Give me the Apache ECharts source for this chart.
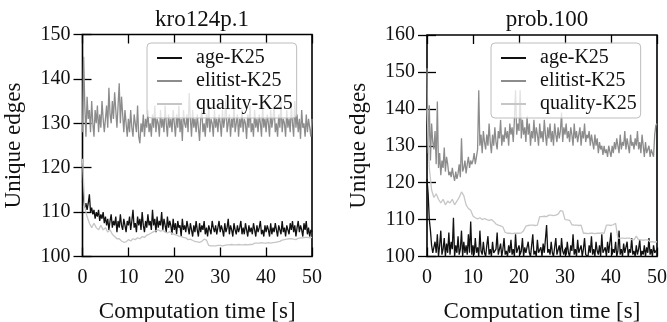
<!DOCTYPE html>
<html>
<head>
<meta charset="utf-8">
<script src="https://cdn.jsdelivr.net/npm/echarts@6/dist/echarts.min.js"></script>
<style>
  html, body { margin: 0; padding: 0; background: #fff; }
  #chart { width: 667px; height: 322px; }
</style>
</head>
<body>
<div id="chart"></div>
<script>
// sampling steps of the traces (seconds)
const fineStep = 0.25;
const coarseStep = 0.5;

const seriesNames = ['age-K25', 'elitist-K25', 'quality-K25'];
const xTicks = [0, 10, 20, 30, 40, 50];
const leftYTicks = [100, 110, 120, 130, 140, 150];
const rightYTicks = [100, 110, 120, 130, 140, 150, 160];

// kro124p.1
const leftAge = [
  117, 113, 111, 112, 110.5, 112, 114, 110, 111, 109.5, 110.5, 108.5, 110, 109, 110.5, 108, 109.5, 108.5, 110, 107.5,
  109, 107, 108.5, 106, 108, 109.5, 106.5, 108, 107, 109, 105.5, 108, 106.5, 109.5, 107, 106, 108.5, 107, 105.5, 108,
  107, 109, 106, 108, 110.5, 106.5, 107.5, 105.5, 109, 107, 108.5, 106, 110, 107, 105.5, 108, 106.5, 109.5, 107, 108,
  106, 110.5, 107, 108.5, 105.5, 109, 106.5, 108, 107, 110, 106, 108.5, 107, 105.5, 109, 106.5, 108, 107, 105, 108.5,
  106, 107.5, 105, 108, 106.5, 107, 104.5, 108.5, 106, 107, 105.5, 108, 106.5, 105, 107.5, 106, 104.5, 107, 105.5, 108,
  106, 104.5, 107.5, 105.5, 107, 106, 108, 105, 106.5, 104.5, 107, 106, 105, 108, 106.5, 105.5, 107, 105, 106.5, 108,
  105.5, 107, 106, 104.5, 107.5, 105.5, 106.5, 108.5, 105, 107, 106, 104.5, 107.5, 106, 105, 107, 105.5, 106.5, 108, 105,
  106.5, 105, 107.5, 106, 104.5, 107, 105.5, 106.5, 105, 107.5, 106, 104.5, 107, 105.5, 106.5, 108, 105, 106, 104.5, 107,
  105.5, 107, 106, 104.5, 107.5, 105, 106.5, 105.5, 107.5, 106, 104.5, 107, 106, 105, 108, 105.5, 106.5, 104.5, 107, 106,
  105, 107.5, 106, 108, 105.5, 107, 104.5, 106.5, 108, 105.5, 107, 106, 104.5, 107.5, 106, 108, 105, 106.5, 104.5, 106,
  105.5
];
const leftElitist = [
  128, 145, 134, 127, 136, 131, 133, 128, 135, 130, 127, 133, 130, 134, 128, 132, 129, 135, 131, 128,
  131, 134, 129, 138, 132, 130, 135, 131, 137, 133, 129, 134, 139, 130, 136, 132, 128, 133, 130, 127,
  131, 128, 133, 129, 127, 132, 130, 128, 134, 127, 125.5, 130, 128, 132, 127, 131, 129, 133, 128, 130,
  127, 132, 129, 134, 128, 131, 130, 127, 133, 129, 131, 128, 134, 130, 127, 132, 129, 131, 128, 133,
  130, 127, 132, 129, 134, 128, 131, 126, 133, 130, 129, 132, 128, 136.8, 131, 127, 133, 129, 131, 128,
  132, 129, 126, 131, 133, 128, 130, 127, 132, 129, 134, 128, 131, 130, 127, 133, 129, 131, 128, 132,
  130, 127, 133, 129, 131, 135.5, 128, 130, 132, 127, 131, 129, 134, 128, 130, 132, 127, 131, 129, 133,
  128, 131, 130, 126.5, 132, 129, 134, 128, 130, 127, 133, 129, 131, 128, 132, 130, 127, 134, 129, 131,
  128, 132, 130, 127, 133, 129, 131, 134, 128, 130, 127, 132, 129, 135, 128, 131, 130, 127, 133, 129,
  131, 128, 134, 130, 127, 135, 129, 132, 128, 131, 126.5, 133, 129, 130, 127, 132, 128, 131, 129, 127,
  131
];
const leftQuality = [
  122, 111, 109, 107.5, 106.5, 107.5, 106.5, 106, 107, 106,
  106.5, 105.5, 106, 105, 104.5, 104, 104, 103.5, 103.2, 103.3,
  103.8, 103.5, 104, 103.8, 104.2, 104, 104.5, 104.3, 104.8, 105,
  105.3, 105.6, 105.8, 106, 105.7, 105.9, 105.5, 105.3, 105.6, 105.2,
  105, 104.8, 104.6, 104.5, 104.3, 104.2, 103.8, 103.9, 103.6, 103.4,
  103.3, 103.2, 103.4, 103.9, 103.7, 102.5, 102.4, 102.4, 102.4, 102.5,
  102.5, 102.4, 102.5, 102.6, 102.6, 102.7, 102.6, 102.6, 102.7, 102.6,
  102.6, 102.7, 102.6, 102.7, 102.7, 103, 103, 103, 103.1, 103,
  103, 103.1, 103, 103.1, 103.2, 103.3, 103.4, 103.7, 103.8, 103.9,
  104, 104, 103.9, 103.8, 104.1, 104.2, 104.2, 104.3, 104.3, 104.2,
  104.3
];

// prob.100
const rightAge = [
  121, 117, 110, 107, 103, 101, 100.5, 104, 101, 106, 100, 103, 107, 100.5, 102, 105, 100, 103.5, 101, 106.5,
  100.5, 104, 102, 110.5, 100, 103, 101, 105.5, 100.5, 102, 107, 100, 104, 101, 103, 100.5, 106, 101, 109.5, 100.5,
  103, 100.5, 105, 101, 102.5, 100, 107, 101.5, 100.5, 104, 101, 100, 103, 105.5, 100.5, 102, 100, 104, 101, 100.5,
  102, 106.5, 100.5, 101, 103.5, 100, 102, 105, 100.5, 101.5, 100, 103, 101, 104.5, 100.5, 102, 100, 106, 101, 100.5,
  103, 100.5, 101.5, 105, 100, 102.5, 101, 100.5, 104, 101, 100, 103, 106, 100.5, 101.5, 100, 104.5, 101, 100.5, 102.5,
  100, 103.5, 101, 100.5, 108.5, 101, 102, 100.5, 104, 101, 100, 102.5, 105, 100.5, 101, 103, 100, 105, 101.5, 100.5,
  102, 100.5, 104, 101, 100, 103, 101.5, 106, 100.5, 102, 100, 104.5, 101, 100.5, 103, 100, 102, 105, 100.5, 101,
  100, 103, 101, 105.5, 100.5, 102, 100, 104, 101.5, 100.5, 103, 100, 106, 101, 100.5, 102.5, 100, 104, 101, 100.5,
  106.5, 100.5, 102, 101, 104, 100, 101.5, 107, 100.5, 102, 100, 103.5, 101, 100.5, 104, 100, 102, 101, 105, 100.5,
  101.5, 100, 103, 100.5, 102, 104.5, 100, 101.5, 100.5, 103, 100, 102.5, 101, 105, 100.5, 102, 100, 103, 101, 100.5,
  102
];
const rightElitist = [
  151, 128, 141, 126, 136, 131, 129, 134, 125, 142, 124, 128, 122, 126, 124, 129.5, 123, 127, 125, 122,
  123, 121.5, 124, 122, 120.5, 123, 121, 122.5, 125, 121.5, 132, 123, 124, 126, 122.5, 125, 127, 124, 126, 125,
  126, 128, 125, 127, 129, 145, 130, 133, 128, 134, 131, 129, 133, 130, 136, 131, 128, 133, 130, 135,
  131, 129, 134, 132, 137, 130, 133, 131, 135, 132, 134, 130, 136, 133, 135, 131, 137, 145, 133, 136,
  134, 145, 132, 137, 133, 135, 131, 138, 133, 136, 130, 134, 132, 137, 131, 135, 133, 130, 136, 132,
  134, 131, 137, 133, 130, 135, 132, 136, 131, 134, 130, 136, 133, 131, 135, 132, 134, 139, 131, 135,
  133, 136, 132, 134, 131, 135, 133, 130, 136, 132, 134, 131, 133, 135, 130, 134, 132, 136, 131, 133,
  132, 134, 130, 133, 131, 129, 133, 130, 132, 128, 131, 129, 130, 127.5, 130, 128, 129, 127, 130, 128.5,
  127, 130, 128, 131, 129, 132, 130, 128, 133, 129, 131, 130, 134, 129, 132, 130, 128, 133, 130, 131,
  129, 132, 130, 134, 129, 131, 128, 133, 130, 127, 131, 128, 127.5, 130, 127, 129, 128, 127, 133, 135.5,
  136
];
const rightQuality = [
  140, 124, 118, 116, 117, 115.5, 114.5, 115.5, 114, 115,
  114.5, 115.5, 114, 115, 116, 117.5, 116.5, 114, 113, 112.5,
  111, 110.5, 110.2, 110.5, 110, 110.3, 110, 109.8, 110, 109.5,
  108.8, 108.5, 108.3, 108, 106.5, 106.3, 106.3, 106.2, 106.3, 106.3,
  106.3, 106.4, 107, 108.2, 108.4, 108.5, 108.5, 108.4, 108.5, 110.8,
  110.8, 110.9, 110.8, 111.2, 111.2, 111.1, 111.2, 111.5, 112.4, 112.3,
  110, 109.9, 109.8, 108.6, 108.5, 108.5, 108.4, 108.5, 106.3, 106.3,
  106.2, 106.3, 106.3, 106.2, 106.3, 106.3, 106.4, 106.3, 108.5, 108.5,
  108.4, 108.6, 109, 105, 105, 105, 104.9, 105, 105, 104.6,
  104.5, 105.5, 104.5, 104.5, 104.4, 104.5, 104.5, 104, 104, 103.9,
  104
];

const colors = ['#111111', '#8c8c8c', '#c6c6c6'];
const font = '"Liberation Serif", "DejaVu Serif", serif';

const toPairs = (arr, step) => arr.map((v, i) => [i * step, v]);

function frameAxes(gridIndex, min, max) {
  const tick = { show: true, inside: true, length: 9, lineStyle: { color: '#000', width: 1.3 } };
  return {
    x: [
      {
        gridIndex, type: 'value', position: 'bottom', min: xTicks[0], max: xTicks[xTicks.length - 1], interval: 10,
        axisLine: { show: false }, axisTick: tick, splitLine: { show: false },
        axisLabel: { fontSize: 20, fontFamily: font, color: '#111', margin: 11 },
        name: 'Computation time [s]', nameLocation: 'middle', nameGap: 44,
        nameTextStyle: { fontSize: 23, fontFamily: font, color: '#111' },
      },
      {
        gridIndex, type: 'value', position: 'top', min: xTicks[0], max: xTicks[xTicks.length - 1], interval: 10,
        axisLine: { show: false }, axisTick: tick, splitLine: { show: false },
        axisLabel: { show: false },
      },
    ],
    y: [
      {
        gridIndex, type: 'value', position: 'left', min, max, interval: 10,
        axisLine: { show: false }, axisTick: tick, splitLine: { show: false },
        axisLabel: { fontSize: 20, fontFamily: font, color: '#111', margin: 12 },
        name: 'Unique edges', nameLocation: 'middle', nameGap: 57,
        nameTextStyle: { fontSize: 23, fontFamily: font, color: '#111' },
      },
      {
        gridIndex, type: 'value', position: 'right', min, max, interval: 10,
        axisLine: { show: false }, axisTick: tick, splitLine: { show: false },
        axisLabel: { show: false },
      },
    ],
  };
}

const leftAxes = frameAxes(0, leftYTicks[0], leftYTicks[leftYTicks.length - 1]);
const rightAxes = frameAxes(1, rightYTicks[0], rightYTicks[rightYTicks.length - 1]);

function makeSeries(data, idx, axisIdx, step) {
  return {
    name: seriesNames[idx],
    type: 'line',
    xAxisIndex: axisIdx,
    yAxisIndex: axisIdx,
    data: toPairs(data, step),
    showSymbol: false,
    symbol: 'none',
    lineStyle: { color: colors[idx], width: 1.3 },
    itemStyle: { color: colors[idx] },
    animation: false,
  };
}

function makeLegend(left) {
  return {
    data: seriesNames,
    orient: 'vertical',
    left, top: 43,
    icon: 'rect',
    itemWidth: 25,
    itemHeight: 2,
    itemGap: 3,
    padding: [5, 4, 4, 10],
    backgroundColor: 'rgba(255,255,255,0.75)',
    borderColor: '#bdbdbd',
    borderWidth: 1,
    borderRadius: 4,
    selectedMode: false,
    textStyle: { fontSize: 20, fontFamily: font, color: '#111', padding: [0, 0, 0, 9], lineHeight: 19 },
  };
}

const titleStyle = { fontSize: 23, fontWeight: 'normal', fontFamily: font, color: '#111' };

const chart = echarts.init(document.getElementById('chart'));
chart.setOption({
  animation: false,
  backgroundColor: '#fff',
  title: [
    { text: 'kro124p.1', left: 197, top: 3, textAlign: 'center', textStyle: titleStyle },
    { text: 'prob.100', left: 542, top: 3, textAlign: 'center', textStyle: titleStyle },
  ],
  grid: [
    { left: 82.5, right: 355, top: 34.5, bottom: 65.5, show: true, borderColor: '#000', borderWidth: 1.6,
      backgroundColor: 'transparent', containLabel: false, outerBoundsMode: 'none' },
    { left: 427, right: 10, top: 35, bottom: 65.5, show: true, borderColor: '#000', borderWidth: 1.6,
      backgroundColor: 'transparent', containLabel: false, outerBoundsMode: 'none' },
  ],
  xAxis: [...leftAxes.x, ...rightAxes.x],
  yAxis: [...leftAxes.y, ...rightAxes.y],
  legend: [makeLegend(147), makeLegend(491)],
  series: [
    makeSeries(leftAge, 0, 0, fineStep),
    makeSeries(leftElitist, 1, 0, fineStep),
    makeSeries(leftQuality, 2, 0, coarseStep),
    makeSeries(rightAge, 0, 2, fineStep),
    makeSeries(rightElitist, 1, 2, fineStep),
    makeSeries(rightQuality, 2, 2, coarseStep),
  ],
});
</script>
</body>
</html>
